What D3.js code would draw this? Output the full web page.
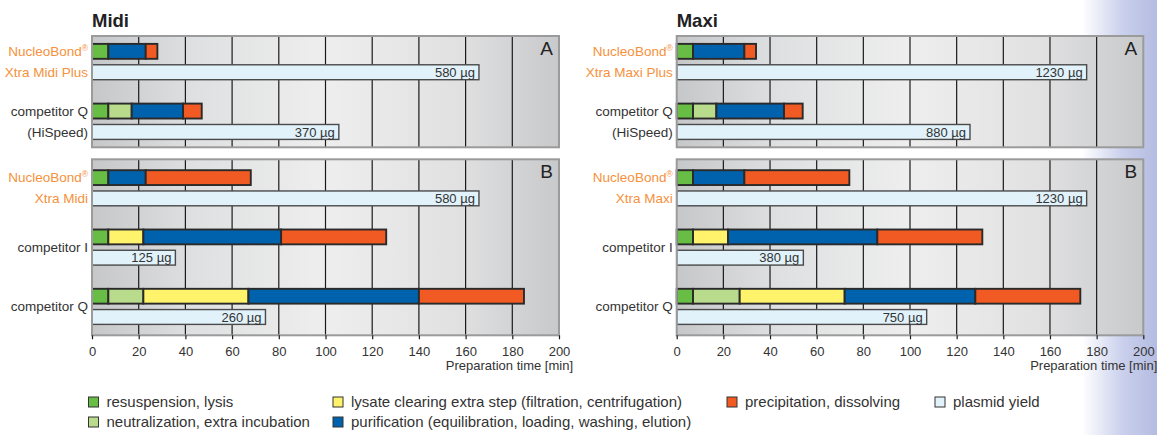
<!DOCTYPE html>
<html>
<head>
<meta charset="utf-8">
<script src="https://cdn.jsdelivr.net/npm/d3@7"></script>
<style>
body { margin: 0; background: #fff; }
svg { display: block; font-family: "Liberation Sans", Arial, sans-serif; }
</style>
</head>
<body>
<svg id="chart"></svg>
<script>
// phases of a preparation (minutes per phase)
const phaseKeys = ["lysis", "neutral", "clearing", "purif", "precip"];
const phaseLabels = [
    "resuspension, lysis",
    "neutralization, extra incubation",
    "lysate clearing extra step (filtration, centrifugation)",
    "purification (equilibration, loading, washing, elution)",
    "precipitation, dissolving"
];
const phaseColors = ["#68bd45", "#b9db8c", "#fff36b", "#0062ad", "#f15a22"];
const yieldLabel = "plasmid yield";
const yieldColor = "#e1f2fb";

// Midi kits
const midiLabels = [["NucleoBond®", "Xtra Midi Plus"], ["competitor Q", "(HiSpeed)"],
    ["NucleoBond®", "Xtra Midi"], ["competitor I"], ["competitor Q"]];
const midiLysis    = [7, 7, 7, 7, 7];
const midiNeutral  = [0, 10, 0, 0, 15];
const midiClearing = [0, 0, 0, 15, 45];
const midiPurif    = [16, 22, 16, 59, 73];
const midiPrecip   = [5, 8, 45, 45, 45];
const midiYield    = [580, 370, 580, 125, 260];

// Maxi kits
const maxiLabels = [["NucleoBond®", "Xtra Maxi Plus"], ["competitor Q", "(HiSpeed)"],
    ["NucleoBond®", "Xtra Maxi"], ["competitor I"], ["competitor Q"]];
const maxiLysis    = [7, 7, 7, 7, 7];
const maxiNeutral  = [0, 10, 0, 0, 20];
const maxiClearing = [0, 0, 0, 15, 45];
const maxiPurif    = [22, 29, 22, 64, 56];
const maxiPrecip   = [5, 8, 45, 45, 45];
const maxiYield    = [1230, 880, 1230, 380, 750];

const panelNames = ["A", "B"];
const panelRows = [[0, 1], [2, 3, 4]];
const timeTicks = [0, 20, 40, 60, 80, 100, 120, 140, 160, 180, 200];

const W = 1157, H = 435;
const svg = d3.select("#chart").attr("width", W).attr("height", H);
const defs = svg.append("defs");

// lavender fade at the right edge
const edge = defs.append("linearGradient").attr("id", "edge");
edge.append("stop").attr("offset", "0%").attr("stop-color", "#ffffff");
edge.append("stop").attr("offset", "55%").attr("stop-color", "#c9cfec");
edge.append("stop").attr("offset", "100%").attr("stop-color", "#b4bce1");
svg.append("rect").attr("x", 1082).attr("y", 0).attr("width", W - 1082).attr("height", H)
    .attr("fill", "url(#edge)");

const panelGrad = defs.append("linearGradient").attr("id", "panelbg");
[["0%", "#c6c7c9"], ["22%", "#dfe0e1"], ["50%", "#eeeeee"], ["78%", "#e1e1e2"], ["100%", "#c8c9cb"]]
    .forEach(function(s) {
        panelGrad.append("stop").attr("offset", s[0]).attr("stop-color", s[1]);
    });

function drawChart(title, labels, cols, yields, xRange, yieldMax) {
    const x = d3.scaleLinear().domain([0, 200]).range(xRange);
    const xy = d3.scaleLinear().domain([0, yieldMax]).range(xRange);

    const table = labels.map(function(l, i) {
        const row = {i: i};
        phaseKeys.forEach(function(k, j) { row[k] = cols[j][i]; });
        return row;
    });
    const series = d3.stack().keys(phaseKeys)(table);

    const g = svg.append("g");

    g.append("text")
        .attr("x", x(0)).attr("y", 27)
        .style("font-size", "18.5px").style("font-weight", "bold").attr("fill", "#222")
        .text(title);

    const panelY = [[36, 147.3], [159.3, 335.3]];
    const outer = [0.132, 0.184];

    panelRows.forEach(function(rows, p) {
        const y = d3.scaleBand().domain(rows).range(panelY[p])
            .paddingInner(0.4).paddingOuter(outer[p]);
        const bw = y.bandwidth();
        const barH = bw * 15 / 36, yOff = bw * 21 / 36;

        g.append("rect")
            .attr("x", x(0)).attr("y", panelY[p][0])
            .attr("width", x(200) - x(0)).attr("height", panelY[p][1] - panelY[p][0])
            .attr("fill", "url(#panelbg)");

        g.selectAll(null)
            .data(timeTicks.slice(1, -1))
            .enter().append("line")
            .attr("x1", function(d) { return x(d); }).attr("x2", function(d) { return x(d); })
            .attr("y1", panelY[p][0]).attr("y2", panelY[p][1])
            .attr("stroke", "#1a1a1a").attr("stroke-width", 1.2);

        // plasmid yield bars
        const yb = g.selectAll(null)
            .data(rows)
            .enter().append("g");
        yb.append("rect")
            .attr("x", x(0))
            .attr("y", function(d) { return y(d) + yOff; })
            .attr("width", function(d) { return xy(yields[d]) - x(0); })
            .attr("height", barH)
            .attr("fill", yieldColor).attr("stroke", "#4a4a4a").attr("stroke-width", 1.4);
        yb.append("text")
            .attr("x", function(d) { return xy(yields[d]) - 4; })
            .attr("y", function(d) { return y(d) + yOff + barH / 2; })
            .attr("dy", "0.36em").attr("text-anchor", "end")
            .style("font-size", "13px").attr("fill", "#333")
            .text(function(d) { return yields[d] + " µg"; });

        // process bars
        series.forEach(function(s, j) {
            g.selectAll(null)
                .data(s.filter(function(d) { return rows.indexOf(d.data.i) >= 0 && d[1] > d[0]; }))
                .enter().append("rect")
                .attr("x", function(d) { return x(d[0]); })
                .attr("y", function(d) { return y(d.data.i); })
                .attr("width", function(d) { return x(d[1]) - x(d[0]); })
                .attr("height", barH)
                .attr("fill", phaseColors[j])
                .attr("stroke", "#2a2a2a").attr("stroke-width", 1.9);
        });

        // row labels
        rows.forEach(function(r) {
            const lab = labels[r];
            const own = lab[0].indexOf("NucleoBond") === 0;
            const color = own ? "#f5913c" : "#333";
            const lines = lab.length === 2
                ? [[lab[0], y(r) + barH / 2], [lab[1], y(r) + yOff + barH / 2]]
                : [[lab[0], y(r) + bw / 2]];
            lines.forEach(function(l) {
                const t = g.append("text")
                    .attr("x", x(0) - 4).attr("y", l[1]).attr("dy", "0.36em")
                    .attr("text-anchor", "end")
                    .style("font-size", "13.5px").attr("fill", color);
                if (l[0].slice(-1) === "®") {
                    t.append("tspan").text(l[0].slice(0, -1));
                    t.append("tspan").attr("dy", "-5").style("font-size", "8.5px").text("®");
                } else {
                    t.text(l[0]);
                }
            });
        });

        g.append("rect")
            .attr("x", x(0)).attr("y", panelY[p][0])
            .attr("width", x(200) - x(0)).attr("height", panelY[p][1] - panelY[p][0])
            .attr("fill", "none").attr("stroke", "#9b9b9b").attr("stroke-width", 2);

        g.append("text")
            .attr("x", x(200) - 6).attr("y", panelY[p][0] + 19)
            .attr("text-anchor", "end")
            .style("font-size", "19px").attr("fill", "#222")
            .text(panelNames[p]);
    });

    const axis = g.append("g")
        .attr("transform", "translate(0," + panelY[1][1] + ")")
        .call(d3.axisBottom(x).tickValues(timeTicks).tickSize(4).tickPadding(7));
    axis.select(".domain").remove();
    axis.selectAll(".tick line").attr("stroke", "#1a1a1a").attr("stroke-width", 1.2);
    axis.selectAll(".tick text")
        .style("font-size", "13px").style("font-family", "Liberation Sans, Arial, sans-serif")
        .attr("fill", "#333");

    g.append("text")
        .attr("x", x(200) + 14).attr("y", 370)
        .attr("text-anchor", "end")
        .style("font-size", "13px").attr("fill", "#333")
        .text("Preparation time [min]");
}

drawChart("Midi", midiLabels,
    [midiLysis, midiNeutral, midiClearing, midiPurif, midiPrecip], midiYield, [92, 559], 700);
drawChart("Maxi", maxiLabels,
    [maxiLysis, maxiNeutral, maxiClearing, maxiPurif, maxiPrecip], maxiYield, [676.7, 1143.3], 1400);

// legend
const legendItems = phaseLabels.map(function(l, i) { return {label: l, color: phaseColors[i]}; })
    .concat([{label: yieldLabel, color: yieldColor}]);
const legendCol = [0, 0, 1, 1, 2, 3];
const legendRow = [0, 1, 0, 1, 0, 0];
const colX = [88.5, 333, 727, 935];
const rowY = [397, 417];

const leg = svg.append("g").selectAll("g")
    .data(legendItems)
    .enter().append("g")
    .attr("transform", function(d, i) {
        return "translate(" + colX[legendCol[i]] + "," + rowY[legendRow[i]] + ")";
    });
leg.append("rect")
    .attr("width", 10).attr("height", 10)
    .attr("fill", function(d) { return d.color; })
    .attr("stroke", "#333").attr("stroke-width", 1);
leg.append("text")
    .attr("x", 18).attr("y", 5).attr("dy", "0.36em")
    .style("font-size", "15px").attr("fill", "#333")
    .text(function(d) { return d.label; });
</script>
</body>
</html>
